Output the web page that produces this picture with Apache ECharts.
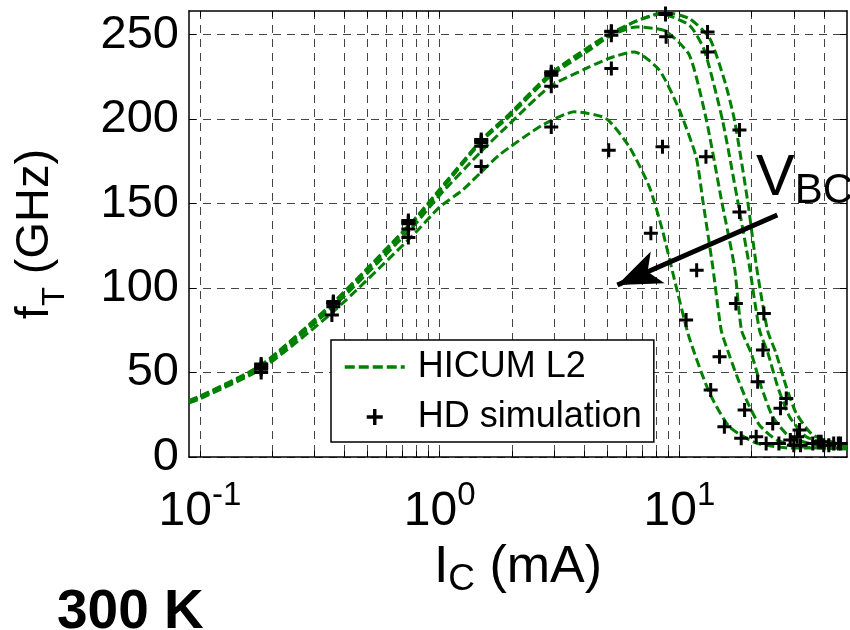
<!DOCTYPE html>
<html>
<head>
<meta charset="utf-8">
<script src="https://cdn.jsdelivr.net/npm/echarts@6/dist/echarts.min.js"></script>
<style>html,body{margin:0;padding:0;background:#fff}#c{width:850px;height:630px}</style>
</head>
<body>
<div id="c"></div>
<script>
// ---- data (x: I_C in mA, y: f_T in GHz) ----
const xMin = 0.09, xMax = 50;
const yMin = 0, yMax = 264;
const xMajorTicks = [0.1, 1, 10];
const xGridValues = [0.1,0.2,0.3,0.4,0.5,0.6,0.7,0.8,0.9,1,2,3,4,5,6,7,8,9,10,20,30,40];
const yTicks = [0, 50, 100, 150, 200, 250];

// HICUM L2 model curves (5 V_BC values)
const hic1X = [0.09,0.1,0.18,0.36,0.77,1.0,1.51,1.95,2.87,4.21,5.2,6.6,8.83,11.0,13.35,15.41,16.97,19.23,20.97,23.3,25.3,27.9,30.7,36.0,47.9,50];
const hic1Y = [33.5,36,54.5,91.5,139.5,158.5,188.5,203,226.5,243,251,258,263,259.5,248,223,199.4,152,112.6,75,61.4,41.6,25.9,13,7.1,6.5];
const hic2X = [0.09,0.1,0.18,0.36,0.77,1.0,1.51,1.95,2.87,4.21,5.2,6.6,8.25,11.0,12.7,15.12,17.47,19.6,21.58,23.4,25.7,28.8,33.8,43.6,50];
const hic2Y = [33,35.5,54,91,139,158,188,202.5,226,242.5,250.5,258,262.5,255.6,240.8,199.4,152.1,112.6,75.1,61.4,41.6,23.8,12.0,7.1,5.9];
const hic3X = [0.09,0.1,0.18,0.36,0.77,1.0,1.51,1.95,2.87,4.21,5.2,6.6,8.74,11.0,12.96,14.97,16.97,18.15,19.93,21.94,24.5,28.8,37.2,50];
const hic3Y = [33,35.5,53.5,90.5,138.5,157,187.5,201.5,225,240.8,249.7,254.6,252.1,237.9,199.4,152.1,112.4,75.1,61.4,41.6,23.8,12.0,7.1,5.3];
const hic4X = [0.09,0.1,0.18,0.36,0.77,1.0,1.51,1.95,2.87,4.21,5.2,6.49,8.25,10.0,11.74,12.51,13.77,14.93,15.87,17.3,19.04,21.58,25.4,31.7,50];
const hic4Y = [32.5,35,53,89,136,155,181.7,197,219.1,230.9,236.5,239.8,229.0,205.3,177.7,152.1,112.6,75.1,63.3,48.5,33.7,18.9,10.1,6.1,4.7];
const hic5X = [0.09,0.1,0.18,0.36,0.77,1.0,1.245,1.77,2.68,3.65,4.94,6.18,7.49,8.49,9.69,11.0,13.35,16.17,20.9,28.8,50];
const hic5Y = [32,34.5,52,86,131,148,158,178.7,196.4,204.3,200.4,183.6,159.9,134.3,100.8,70.4,37.9,17.8,8.3,5.3,5.3];

// HD simulation points
const hd1X = [0.18,0.36,0.74,1.49,2.92,5.2,8.75,13.1,17.8,22.5,27.9,31.7,39,47];
const hd1Y = [55,92,140,188,228,252,262.5,251.6,193.5,85,34.7,16,9,8];
const hd2X = [0.18,0.36,0.74,1.49,2.92,5.2,8.75,13.1,17.8,22.3,26.4,31,38,46];
const hd2Y = [54,91.5,139,187,227,251.7,262,239.8,145,63.3,28.8,12,9,8];
const hd3X = [0.18,0.36,0.74,1.49,2.92,5.2,8.8,12.9,17.2,21.2,24.5,29,36,44];
const hd3Y = [53,90.5,138,186,226,249.7,248.7,177.7,90.9,44.6,19.9,10,8,8];
const hd4X = [0.18,0.36,0.74,1.49,2.92,5.2,8.5,11.8,14.7,18.7,20.9,26,32,40];
const hd4Y = [52,89,135,184,219.5,230,183.6,110.6,59.3,27.8,12,8,7,7];
const hd5X = [0.18,0.355,0.74,1.49,2.92,5.07,7.6,10.66,13.5,15.4,18.1,23,30,42];
const hd5Y = [50,84,130,172,195.4,181.6,132.4,81.1,39.6,17.9,11.1,8,7,7];

// annotation arrow (data coords) : tip, tail
const arrowTip = [5.51, 101.8];
const arrowTail = [25.6, 143.2];

// ---- build ----
const L = Math.log10;
const pair = (xs, ys) => xs.map((x, i) => [L(x), ys[i]]);
const FONT = 'Liberation Sans, Arial, Helvetica, sans-serif';
const GREEN = '#008000';
const PLUS = 'path://M5.5,0h3v5.5h5.5v3h-5.5v5.5h-3v-5.5h-5.5v-3h5.5z';

const curves = [[hic1X,hic1Y],[hic2X,hic2Y],[hic3X,hic3Y],[hic4X,hic4Y],[hic5X,hic5Y]];
const points = [[hd1X,hd1Y],[hd2X,hd2Y],[hd3X,hd3Y],[hd4X,hd4Y],[hd5X,hd5Y]];

const series = [];
curves.forEach(c => series.push({
  name: 'HICUM L2', type: 'line', data: pair(c[0], c[1]), showSymbol: false, symbol: 'none',
  smooth: 0.2, lineStyle: { color: GREEN, width: 3, type: [9, 4] }, itemStyle: { color: GREEN },
  z: 3, silent: true
}));
points.forEach(p => series.push({
  name: 'HD simulation', type: 'scatter', data: pair(p[0], p[1]), symbol: PLUS, symbolSize: 14,
  itemStyle: { color: '#000', opacity: 1 }, z: 5, silent: true
}));
series.push({
  type: 'line', data: [], silent: true, z: 6,
  markLine: {
    silent: true, animation: false, symbol: ['arrow', 'none'], symbolSize: [26, 44],
    lineStyle: { color: '#000', width: 5, type: 'solid' }, label: { show: false },
    data: [[{ coord: [L(arrowTip[0]), arrowTip[1]] }, { coord: [L(arrowTail[0]), arrowTail[1]] }]]
  }
});

const gridLine = { show: true, lineStyle: { color: '#444', width: 1, type: [8, 6] } };
const xTickVals = xGridValues.map(L);

const chart = echarts.init(document.getElementById('c'), null, { renderer: 'canvas' });
chart.setOption({
  animation: false,
  backgroundColor: '#fff',
  textStyle: { fontFamily: FONT },
  grid: { left: 189, right: 3, top: 11, bottom: 173, containLabel: false },
  legend: {
    data: [
      { name: 'HICUM L2', itemStyle: { opacity: 0 }, lineStyle: { color: GREEN, width: 3.5, type: [10, 4] } },
      { name: 'HD simulation', itemStyle: { color: '#000', opacity: 1 } }
    ],
    orient: 'vertical', left: 331, top: 340,
    padding: [9, 12, 7, 12], itemGap: 14, itemWidth: 60, itemHeight: 16,
    backgroundColor: '#fff', borderColor: '#000', borderWidth: 1.5, borderRadius: 0,
    textStyle: { fontSize: 36, color: '#000', fontFamily: FONT, lineHeight: 36, padding: [0, 0, 0, 8] },
    selectedMode: false
  },
  xAxis: [{
    type: 'value', min: L(xMin), max: L(xMax), position: 'bottom',
    axisLine: { show: true, onZero: false, lineStyle: { color: '#000', width: 1.5 } },
    axisTick: { show: true, inside: true, length: 6, customValues: xTickVals, lineStyle: { color: '#000', width: 1 } },
    axisLabel: {
      customValues: xMajorTicks.map(L), margin: 22, color: '#000',
      formatter: v => '{b|10}{s|' + Math.round(v) + '}',
      rich: { b: { fontSize: 48, fontFamily: FONT, color: '#000' },
              s: { fontSize: 33, fontFamily: FONT, color: '#000', padding: [0, 0, 32, 0] } }
    },
    splitLine: gridLine,
    name: '{a|I}{s|C}{a| (mA)}', nameLocation: 'middle', nameGap: 80,
    nameTextStyle: { rich: { a: { fontSize: 52, fontFamily: FONT, color: '#000' },
                             s: { fontSize: 37, fontFamily: FONT, color: '#000', padding: [24, 0, 0, 0] } } }
  }, {
    type: 'value', min: L(xMin), max: L(xMax), position: 'top',
    axisLine: { show: true, onZero: false, lineStyle: { color: '#000', width: 1.5 } },
    axisTick: { show: true, inside: true, length: 6, customValues: xTickVals, lineStyle: { color: '#000', width: 1 } },
    axisLabel: { show: false }, splitLine: { show: false }
  }],
  yAxis: [{
    type: 'value', min: yMin, max: yMax, interval: 50, position: 'left',
    axisLine: { show: true, onZero: false, lineStyle: { color: '#000', width: 1.5 } },
    axisTick: { show: true, inside: true, length: 7, customValues: yTicks, lineStyle: { color: '#000', width: 1 } },
    axisLabel: { customValues: yTicks, fontSize: 47, color: '#000', margin: 10, fontFamily: FONT },
    splitLine: gridLine,
    name: '{a|f}{s|T}{a| (GHz)}', nameLocation: 'middle', nameGap: 118, nameRotate: 90,
    nameTextStyle: { rich: { a: { fontSize: 47, fontFamily: FONT, color: '#000' },
                             s: { fontSize: 31, fontFamily: FONT, color: '#000', padding: [40, 0, 0, 0] } } }
  }, {
    type: 'value', min: yMin, max: yMax, interval: 50, position: 'right',
    axisLine: { show: true, onZero: false, lineStyle: { color: '#000', width: 1.5 } },
    axisTick: { show: true, inside: true, length: 7, customValues: yTicks, lineStyle: { color: '#000', width: 1 } },
    axisLabel: { show: false }, splitLine: { show: false }
  }],
  title: {
    text: '300 K', left: 52, top: 580,
    textStyle: { fontSize: 55, fontWeight: 'bold', color: '#000', fontFamily: FONT }
  },
  graphic: [{
    type: 'text', left: 756, top: 150, z: 10,
    style: {
      text: '{v|V}{s|BC}',
      rich: { v: { fontSize: 58, fontFamily: FONT, fill: '#000' },
              s: { fontSize: 42, fontFamily: FONT, fill: '#000', padding: [24, 0, 0, 0] } }
    }
  }],
  series: series
});
</script>
</body>
</html>
